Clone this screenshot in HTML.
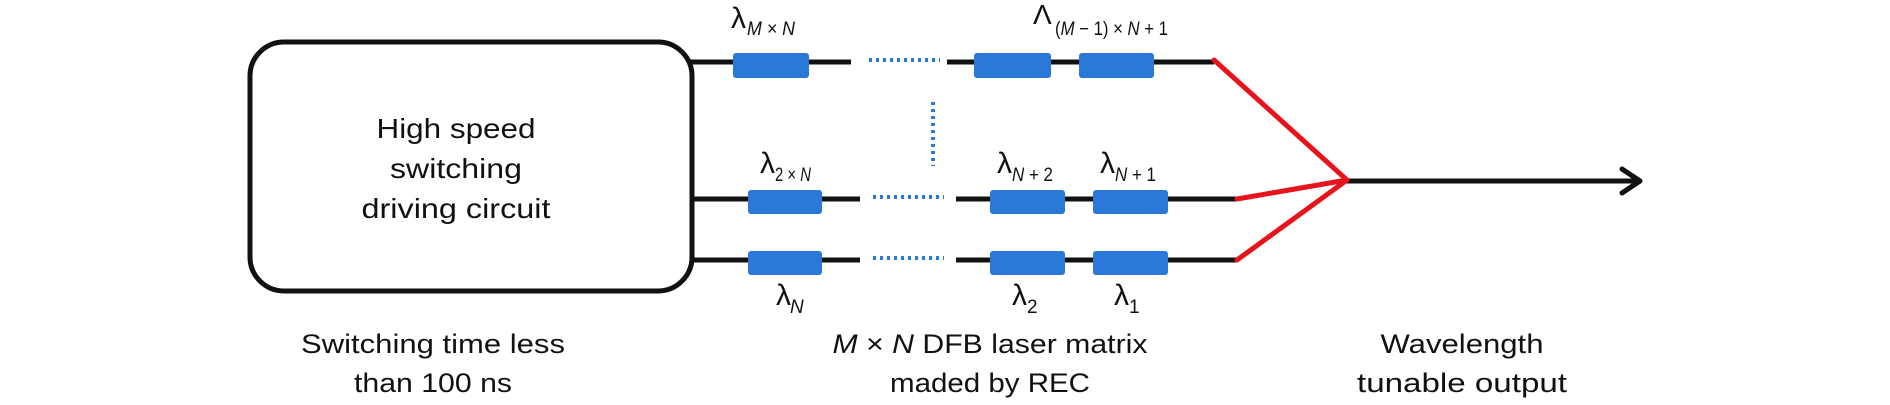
<!DOCTYPE html>
<html><head><meta charset="utf-8"><style>
html,body{margin:0;padding:0;background:#fff;}
svg{display:block;}
text{font-family:"Liberation Sans",sans-serif;fill:#111;}
</style></head><body>
<svg width="1890" height="405" viewBox="0 0 1890 405" xmlns="http://www.w3.org/2000/svg">
<!-- box -->
<rect x="250" y="42" width="442" height="249" rx="34" ry="34" fill="#fff" stroke="#111" stroke-width="5"/>
<text x="456" y="138" font-size="28" text-anchor="middle" textLength="159" lengthAdjust="spacingAndGlyphs">High speed</text>
<text x="456" y="178" font-size="28" text-anchor="middle" textLength="132" lengthAdjust="spacingAndGlyphs">switching</text>
<text x="456" y="218" font-size="28" text-anchor="middle" textLength="189" lengthAdjust="spacingAndGlyphs">driving circuit</text>

<g stroke="#111" stroke-width="5">
<line x1="688" y1="62" x2="851" y2="62"/>
<line x1="947" y1="62" x2="1214" y2="62"/>
<line x1="692" y1="199" x2="860" y2="199"/>
<line x1="956" y1="199" x2="1237" y2="199"/>
<line x1="692" y1="260" x2="860" y2="260"/>
<line x1="956" y1="260" x2="1237" y2="260"/>
<line x1="1345" y1="181" x2="1638" y2="181"/>
</g>
<polyline points="1622,169 1640,181 1622,193" fill="none" stroke="#111" stroke-width="5" stroke-linecap="round" stroke-linejoin="round"/>
<g stroke="#e8141c" stroke-width="5" stroke-linecap="round" fill="none">
<line x1="1214" y1="60" x2="1347" y2="180"/>
<line x1="1237" y1="199" x2="1347" y2="180"/>
<line x1="1237" y1="260" x2="1347" y2="180"/>
</g>
<!-- dotted -->
<g stroke="#2a78d8" stroke-width="4" stroke-dasharray="3,4">
<line x1="869" y1="60" x2="940" y2="60"/>
<line x1="873" y1="197" x2="944" y2="197"/>
<line x1="873" y1="258" x2="944" y2="258"/>
<line x1="933" y1="102" x2="933" y2="166"/>
</g>
<!-- blocks -->
<g fill="#2a78d8">
<rect x="733" y="53" width="76" height="25" rx="3"/>
<rect x="974" y="53" width="77" height="25" rx="3"/>
<rect x="1079" y="53" width="75" height="25" rx="3"/>
<rect x="748" y="190" width="74" height="24" rx="3"/>
<rect x="990" y="190" width="75" height="24" rx="3"/>
<rect x="1093" y="190" width="75" height="24" rx="3"/>
<rect x="748" y="251" width="74" height="24" rx="3"/>
<rect x="990" y="251" width="75" height="24" rx="3"/>
<rect x="1093" y="251" width="75" height="24" rx="3"/>
</g>
<!-- labels -->
<text x="731" y="28" font-size="30">λ</text>
<text x="747" y="35" font-size="19" font-style="italic" textLength="48" lengthAdjust="spacingAndGlyphs">M × N</text>
<text x="1033" y="24" font-size="28">Λ</text>
<text x="1055" y="35" font-size="19" textLength="113" lengthAdjust="spacingAndGlyphs">(<tspan font-style="italic">M</tspan> − 1) × <tspan font-style="italic">N</tspan> + 1</text>

<text x="760" y="173" font-size="30">λ</text>
<text x="775" y="181" font-size="19" textLength="36" lengthAdjust="spacingAndGlyphs">2 × <tspan font-style="italic">N</tspan></text>
<text x="997" y="173" font-size="30">λ</text>
<text x="1012" y="181" font-size="19" textLength="41" lengthAdjust="spacingAndGlyphs"><tspan font-style="italic">N</tspan> + 2</text>
<text x="1100" y="173" font-size="30">λ</text>
<text x="1115" y="181" font-size="19" textLength="41" lengthAdjust="spacingAndGlyphs"><tspan font-style="italic">N</tspan> + 1</text>

<text x="776" y="305" font-size="30">λ</text>
<text x="790" y="313" font-size="19" font-style="italic">N</text>
<text x="1012" y="305" font-size="30">λ</text>
<text x="1027" y="313" font-size="19">2</text>
<text x="1114" y="305" font-size="30">λ</text>
<text x="1129" y="313" font-size="19">1</text>

<!-- captions -->
<text x="433" y="353" font-size="27" text-anchor="middle" textLength="264" lengthAdjust="spacingAndGlyphs">Switching time less</text>
<text x="433" y="392" font-size="27" text-anchor="middle" textLength="158" lengthAdjust="spacingAndGlyphs">than 100 ns</text>
<text x="990" y="353" font-size="27" text-anchor="middle" textLength="315" lengthAdjust="spacingAndGlyphs"><tspan font-style="italic">M</tspan> × <tspan font-style="italic">N</tspan> DFB laser matrix</text>
<text x="990" y="392" font-size="27" text-anchor="middle" textLength="200" lengthAdjust="spacingAndGlyphs">maded by REC</text>
<text x="1462" y="353" font-size="27" text-anchor="middle" textLength="163" lengthAdjust="spacingAndGlyphs">Wavelength</text>
<text x="1462" y="392" font-size="27" text-anchor="middle" textLength="210" lengthAdjust="spacingAndGlyphs">tunable output</text>
</svg>
</body></html>
